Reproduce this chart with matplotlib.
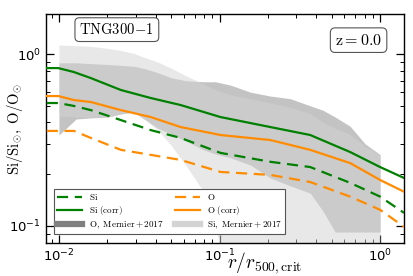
import numpy as np
import matplotlib
matplotlib.use("Agg")
import matplotlib.pyplot as plt
from matplotlib.lines import Line2D

# ---- simulation profiles (TNG300-1, z=0) ----
r_sim = [0.0084, 0.0099, 0.0124, 0.0158, 0.0243, 0.0373, 0.0573, 0.1014,
         0.2074, 0.367, 0.651, 1.0, 1.41]
si_raw = [0.519, 0.519, 0.499, 0.472, 0.413, 0.361, 0.325, 0.266, 0.236,
          0.220, 0.178, 0.148, 0.119]
si_corr = [0.829, 0.829, 0.786, 0.725, 0.618, 0.555, 0.505, 0.430, 0.376,
           0.338, 0.269, 0.220, 0.190]
o_raw = [0.357, 0.357, 0.357, 0.325, 0.277, 0.259, 0.242, 0.206, 0.198,
         0.180, 0.148, 0.124, 0.0987]
o_corr = [0.570, 0.570, 0.540, 0.526, 0.472, 0.430, 0.376, 0.338, 0.316,
          0.277, 0.232, 0.185, 0.158]

# ---- observational bands (Mernier et al. 2017) ----
r_obs = [0.01, 0.0128, 0.0158, 0.0201, 0.0243, 0.0292, 0.0347, 0.0412,
         0.0497, 0.0615, 0.0796, 0.0945, 0.117, 0.156, 0.207, 0.276,
         0.367, 0.443, 0.525, 0.651, 0.807, 1.0]
si_obs_hi = [1.13, 1.12, 1.11, 1.08, 1.05, 1.01, 0.95, 0.90, 0.83, 0.75,
             0.67, 0.62, 0.58, 0.55, 0.52, 0.49, 0.45, 0.40, 0.37, 0.34,
             0.29, 0.26]
si_obs_lo = [0.436, 0.430, 0.428, 0.430, 0.448, 0.460, 0.413, 0.361, 0.296,
             0.226, 0.158, 0.095, 0.05, 0.05, 0.05, 0.05, 0.05, 0.05, 0.05,
             0.05, 0.05, 0.05]
o_obs_hi = [0.89, 0.89, 0.88, 0.87, 0.86, 0.85, 0.82, 0.78, 0.73, 0.70,
            0.69, 0.69, 0.66, 0.60, 0.57, 0.55, 0.50, 0.47, 0.43, 0.38,
            0.30, 0.26]
o_obs_lo = [0.338, 0.419, 0.425, 0.430, 0.448, 0.460, 0.413, 0.371, 0.343,
            0.312, 0.277, 0.262, 0.249, 0.226, 0.190, 0.171, 0.155, 0.121,
            0.092, 0.092, 0.092, 0.092]

fig = plt.figure(figsize=(4.14, 2.76), dpi=100)
ax = fig.add_axes([0.111, 0.12, 0.865, 0.829])

ax.fill_between(r_obs, o_obs_lo, o_obs_hi, color='gray', alpha=0.47,
                lw=0, zorder=1)
ax.fill_between(r_obs, si_obs_lo, si_obs_hi, color='lightgray', alpha=0.5,
                lw=0, zorder=2)

dash = (5, 3)
ax.plot(r_sim, si_raw, color='green', lw=1.6, ls='--', dashes=dash, zorder=3)
ax.plot(r_sim, si_corr, color='green', lw=1.6, zorder=3)
ax.plot(r_sim, o_raw, color='darkorange', lw=1.6, ls='--', dashes=dash, zorder=3)
ax.plot(r_sim, o_corr, color='darkorange', lw=1.6, zorder=3)

ax.set_xscale('log')
ax.set_yscale('log')
ax.set_xlim(0.0083, 1.41)
ax.set_ylim(0.0796, 1.71)

ax.tick_params(which='both', direction='in', top=True, right=True,
               labelsize=9.5)
ax.tick_params(which='major', length=6, width=0.9)
ax.tick_params(which='minor', length=3, width=0.7)
for s in ax.spines.values():
    s.set_linewidth(1.0)

ax.set_xlabel(r'$r/r_{\mathrm{500,crit}}$', fontsize=14, math_fontfamily='cm')
ax.xaxis.set_label_coords(0.612, -0.032)
ax.set_ylabel(r'$\mathrm{Si/Si_{\odot},\ O/O_{\odot}}$', fontsize=10.5,
              math_fontfamily='cm')
ax.yaxis.set_label_coords(-0.058, 0.498)

bbox = dict(boxstyle='round,pad=0.3', fc='white', ec='#555555', lw=0.8)
ax.text(0.198, 0.932, r'$\mathrm{TNG300\!-\!1}$', transform=ax.transAxes,
        fontsize=10.5, math_fontfamily='cm', ha='center', va='center', bbox=bbox)
ax.text(0.873, 0.886, r'$\mathrm{z=0.0}$', transform=ax.transAxes,
        fontsize=11.5, math_fontfamily='cm', ha='center', va='center', bbox=bbox)

handles = [
    Line2D([], [], color='green', lw=1.6, ls='--', dashes=dash),
    Line2D([], [], color='green', lw=1.6),
    Line2D([], [], color='gray', lw=4.5),
    Line2D([], [], color='darkorange', lw=1.6, ls='--', dashes=dash),
    Line2D([], [], color='darkorange', lw=1.6),
    Line2D([], [], color='lightgray', lw=4.5),
]
labels = [r'$\mathrm{Si}$', r'$\mathrm{Si\ (corr)}$',
          r'$\mathrm{O,\ Mernier+2017}$', r'$\mathrm{O}$',
          r'$\mathrm{O\ (corr)}$', r'$\mathrm{Si,\ Mernier+2017}$']
leg = ax.legend(handles, labels, ncol=2, loc='lower left',
                bbox_to_anchor=(0.022, 0.038), borderaxespad=0,
                fontsize=6.5, handlelength=2.8, handletextpad=0.7,
                columnspacing=1.3, fancybox=False,
                edgecolor='#555555', framealpha=1, borderpad=0.35,
                labelspacing=0.25)
leg.get_frame().set_linewidth(0.8)
leg.set_zorder(5)
for t in leg.get_texts():
    t.set_math_fontfamily('cm')

fig.savefig('out.png', dpi=100)
